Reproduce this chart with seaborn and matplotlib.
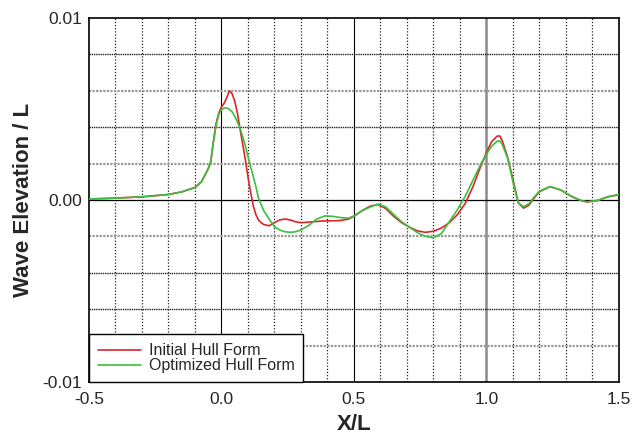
import numpy as np
import pandas as pd
import matplotlib
matplotlib.use('Agg')
import matplotlib.pyplot as plt
import seaborn as sns

# X/L stations
x_over_l = [-0.5, -0.4, -0.3, -0.2, -0.15, -0.1, -0.075, -0.05, -0.04, -0.03,
            -0.02, -0.01, 0.0, 0.01, 0.02, 0.03, 0.04, 0.05, 0.06, 0.07,
            0.08, 0.09, 0.10, 0.11, 0.12, 0.13, 0.14, 0.15, 0.16, 0.18,
            0.20, 0.22, 0.24, 0.26, 0.28, 0.30, 0.33, 0.36, 0.39, 0.42,
            0.45, 0.48, 0.50, 0.53, 0.56, 0.59, 0.62, 0.65, 0.68, 0.71,
            0.74, 0.77, 0.80, 0.83, 0.86, 0.89, 0.92, 0.95, 0.98, 1.00,
            1.02, 1.04, 1.05, 1.06, 1.08, 1.10, 1.12, 1.14, 1.16, 1.18,
            1.20, 1.24, 1.28, 1.32, 1.36, 1.38, 1.42, 1.46, 1.50]

# wave elevation / L, in units of 1e-3
initial_e3 = [0.05, 0.10, 0.17, 0.30, 0.44, 0.68, 1.0, 1.7, 2.1, 3.2,
              4.2, 4.75, 5.1, 5.3, 5.6, 6.0, 5.85, 5.45, 4.8, 3.95,
              3.1, 2.25, 1.3, 0.45, -0.3, -0.8, -1.1, -1.25, -1.35, -1.42,
              -1.25, -1.1, -1.05, -1.1, -1.2, -1.25, -1.22, -1.18, -1.15, -1.15,
              -1.13, -1.05, -0.9, -0.6, -0.35, -0.25, -0.47, -0.9, -1.25, -1.5,
              -1.7, -1.78, -1.72, -1.55, -1.25, -0.82, -0.2, 0.75, 1.9, 2.6,
              3.2, 3.5, 3.52, 3.25, 2.35, 1.15, -0.15, -0.45, -0.3, 0.1,
              0.45, 0.73, 0.55, 0.2, -0.05, -0.11, -0.03, 0.18, 0.28]

optimized_e3 = [0.05, 0.10, 0.17, 0.30, 0.44, 0.68, 1.0, 1.7, 2.1, 3.2,
                4.1, 4.7, 4.95, 5.05, 5.05, 4.98, 4.85, 4.6, 4.3, 3.95,
                3.5, 3.0, 2.4, 1.85, 1.3, 0.75, 0.1, -0.25, -0.6, -1.05,
                -1.47, -1.65, -1.75, -1.78, -1.75, -1.65, -1.4, -1.05, -0.88, -0.9,
                -0.97, -1.0, -0.88, -0.6, -0.4, -0.23, -0.38, -0.8, -1.2, -1.5,
                -1.8, -2.0, -2.08, -1.85, -1.2, -0.55, 0.2, 1.1, 2.0, 2.5,
                2.95, 3.22, 3.25, 3.05, 2.3, 1.0, -0.15, -0.37, -0.22, 0.15,
                0.48, 0.73, 0.55, 0.2, -0.05, -0.1, -0.03, 0.18, 0.30]

labels = ['Initial Hull Form', 'Optimized Hull Form']
colors = ['#d8262b', '#3cbf3c']

df = pd.concat([
    pd.DataFrame({'x': x_over_l, 'y': np.array(initial_e3) * 1e-3, 'form': labels[0]}),
    pd.DataFrame({'x': x_over_l, 'y': np.array(optimized_e3) * 1e-3, 'form': labels[1]}),
])

sns.set_style('white')
plt.rcParams['font.family'] = ['Liberation Sans', 'DejaVu Sans']

fig = plt.figure(figsize=(6.44, 4.37), dpi=100)
ax = fig.add_axes([0.138, 0.126, 0.823, 0.833])

# grid
for xv in np.arange(-0.4, 1.5, 0.1):
    xv = round(xv, 1)
    if xv in (0.0, 0.5, 1.0):
        continue
    ax.axvline(xv, color='#222222', lw=0.9, ls=(0, (1, 1.5)), zorder=1)
ax.axvline(0.0, color='black', lw=0.8, zorder=1)
ax.axvline(0.5, color='black', lw=0.8, zorder=1)
ax.axvline(1.0, color='#8a8a8a', lw=1.8, zorder=1)
for yv, c, w in [(0.008, '#222222', 1.0), (0.006, '#999999', 1.6),
                 (0.004, '#222222', 1.0), (0.002, '#999999', 1.6),
                 (-0.002, '#999999', 1.6), (-0.004, '#222222', 1.0),
                 (-0.006, '#222222', 1.0), (-0.008, '#999999', 1.6)]:
    ax.axhline(yv, color=c, lw=w, ls=(0, (1, 0.6)), zorder=1)
ax.axhline(0.0, color='black', lw=0.9, zorder=1)

sns.lineplot(data=df, x='x', y='y', hue='form', palette=colors,
             linewidth=1.2, ax=ax, legend=False, zorder=3)

ax.set_xlim(-0.5, 1.5)
ax.set_ylim(-0.01, 0.01)
ax.set_xticks([-0.5, 0.0, 0.5, 1.0, 1.5])
ax.set_xticklabels(['-0.5', '0.0', '0.5', '1.0', '1.5'])
ax.set_yticks([-0.01, 0.0, 0.01])
ax.set_yticklabels(['-0.01', '0.00', '0.01'])
ax.tick_params(length=0, labelsize=12.5)
ax.tick_params(axis='x', pad=7)
ax.tick_params(axis='y', pad=5)
for s in ax.spines.values():
    s.set_color('black')
    s.set_linewidth(1.2)

ax.set_xlabel('X/L', fontsize=16, fontweight='bold', labelpad=5)
ax.set_ylabel('Wave Elevation / L', fontsize=16, fontweight='bold', labelpad=6)

handles = [plt.Line2D([], [], color=c, lw=1.2) for c in colors]
leg = ax.legend(handles, labels, loc='lower left', borderaxespad=0,
                fontsize=11.5, handlelength=2.7, handletextpad=0.5,
                labelspacing=0.0, borderpad=0.55, fancybox=False,
                framealpha=1, edgecolor='black')
leg.get_frame().set_linewidth(1.0)
leg.set_zorder(5)

fig.savefig('out.png', dpi=100)
